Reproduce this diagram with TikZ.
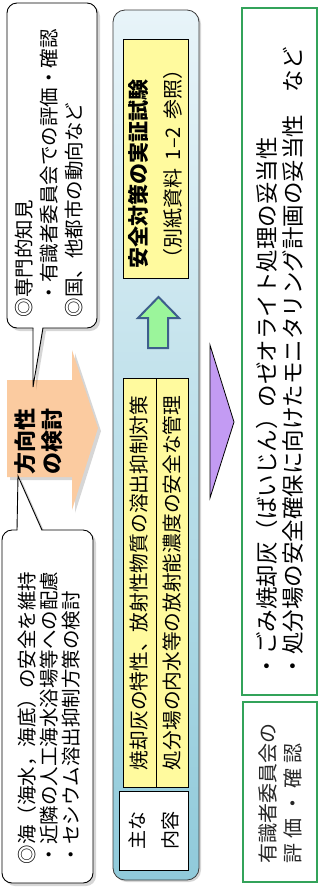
\documentclass[tikz,border=0pt]{standalone}
\usepackage{fontspec}
\setmainfont{Noto Sans CJK JP}
\definecolor{yelc}{HTML}{FFFA9E}
\definecolor{orangec}{HTML}{FBCBA0}
\definecolor{blueT}{HTML}{E8F4F9}
\definecolor{blueB}{HTML}{90CADA}
\definecolor{panelc}{HTML}{3A3A3A}
\definecolor{greenf}{HTML}{9BF59B}
\definecolor{arrowb}{HTML}{3E5E8C}
\definecolor{purplec}{HTML}{C39BF3}
\definecolor{gboxc}{HTML}{33A35A}
\begin{document}
\begin{tikzpicture}[x=1pt,y=-1pt,
  vt/.style={rotate=90,anchor=west,inner sep=0pt,outer sep=0pt},
  cbox/.style={fill=white,draw=black,line width=0.9pt},
  shad/.style={fill=black,opacity=0.16},
  yel/.style={fill=yelc,draw=black,line width=0.8pt},
  gbox/.style={draw=gboxc,line width=1.8pt},
  fc/.style={font=\fontsize{19.5}{20}\selectfont},
  fo/.style={font=\fontsize{22}{22}\bfseries\selectfont},
  fy/.style={font=\fontsize{19.7}{20}\selectfont},
  fg/.style={font=\fontsize{22.5}{23}\selectfont},
  fb/.style={font=\fontsize{20}{20}\selectfont}]
\useasboundingbox (0,0) rectangle (335,892);

% orange block arrow
\fill[shad,shift={(3,3)}] (7,380) -- (72,380) -- (72,350) -- (98,428) -- (72,510) -- (72,477) -- (7,477) -- cycle;
\fill[orangec] (7,380) -- (72,380) -- (72,350) -- (98,428) -- (72,510) -- (72,477) -- (7,477) -- cycle;
\node[vt,fo] (o1) at (25,474) {方向性};
\node[vt,fo] (o2) at (52,474) {の検討};

% top callout
\fill[shad,shift={(3,3)},rounded corners=10pt] (7,3) rectangle (97,328);
\fill[shad,shift={(3,3)}] (33,328) -- (33,387) -- (43,328) -- cycle;
\path[cbox,rounded corners=10pt] (7,3) rectangle (97,328);
\fill[white] (33.4,327) -- (33.4,386) -- (42.6,327) -- cycle;
\draw[line width=0.9pt] (33,328) -- (33,387) -- (43,328);
\node[vt,fc] (t1) at (24,317) {◎専門的知見};
\node[vt,fc] (t2) at (49,302) {・有識者委員会での評価・確認};
\node[vt,fc] (t3) at (74,317) {◎国、他都市の動向など};

% bottom callout
\fill[shad,shift={(3,3)},rounded corners=10pt] (2,530) rectangle (93,883);
\fill[shad,shift={(3,3)}] (17,530) -- (18,476) -- (42,530) -- cycle;
\path[cbox,rounded corners=10pt] (2,530) rectangle (93,883);
\fill[white] (17.4,531) -- (18.2,478) -- (41.6,531) -- cycle;
\draw[line width=0.9pt] (17,530) -- (18,476) -- (42,530);
\node[vt,fc] (b1) at (27,864) {◎海（海水，海底）の安全を維持};
\node[vt,fc] (b2) at (49,864) {・近隣の人工海水浴場等への配慮};
\node[vt,fc] (b3) at (71,864) {・セシウム溶出抑制方策の検討};

% blue panel
\fill[shad,shift={(2,2)},rounded corners=12pt] (113,10) rectangle (199,880);
\shadedraw[top color=blueT,bottom color=blueB,draw=panelc,line width=0.8pt,rounded corners=12pt] (113,10) rectangle (199,880);
\draw[yel] (123,39) rectangle (188,278);
\node[vt,font=\fontsize{21}{21}\bfseries\selectfont] (y1) at (138,268) {安全対策の実証試験};
\node[vt,font=\fontsize{20}{20}\selectfont] (y2) at (173,268) {（別紙資料\kern8pt 1–2\kern8pt 参照）};
\filldraw[fill=greenf,draw=arrowb,line width=2pt,line join=miter] (148,348) -- (148,318) -- (138,318) -- (158.5,297) -- (179,318) -- (168,318) -- (168,348) -- cycle;
\draw[yel] (123,378) rectangle (156,787);
\draw[yel] (156,378) rectangle (188,787);
\node[vt,fy] (y3) at (139.5,770) {焼却灰の特性、放射性物質の溶出抑制対策};
\node[vt,fy] (y4) at (172,770) {処分場の内水等の放射能濃度の安全な管理};
\draw[fill=white,line width=0.8pt] (119,791) rectangle (188,870);
\node[vt,font=\fontsize{19}{19}\selectfont] (m1) at (137,849) {主な};
\node[vt,font=\fontsize{19}{19}\selectfont] (m2) at (170,849) {内容};

% purple triangle
\filldraw[fill=purplec,draw=black,line width=0.8pt] (210,345) -- (234,422) -- (210,498) -- cycle;

% green boxes
\draw[gbox] (242,8) rectangle (317,695);
\node[vt,fg] (g1) at (267,677) {・ごみ焼却灰（ばいじん）のゼオライト処理の妥当性};
\node[vt,fg] (g2) at (293,677) {・処分場の安全確保に向けたモニタリング計画の妥当性　など};
\draw[gbox] (243,702) rectangle (317,882);
\node[vt,fb,text=black!85] (h1) at (268,863) {有識者委員会の};
\node[vt,fb,text=black!85] (h2) at (293,863) {評\kern5pt 価\kern5pt ・\kern5pt 確\kern5pt 認};
\end{tikzpicture}
\end{document}
